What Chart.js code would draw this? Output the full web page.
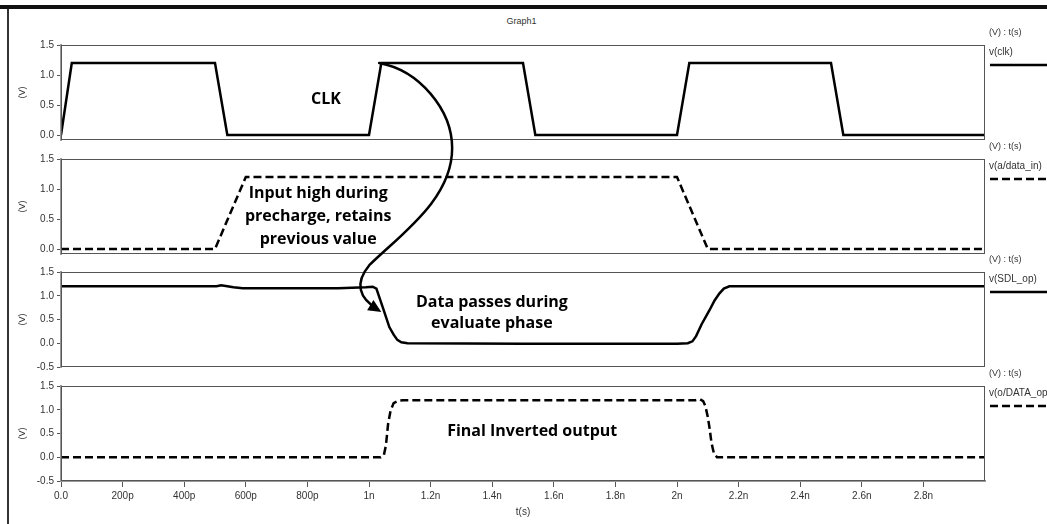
<!DOCTYPE html>
<html>
<head>
<meta charset="utf-8">
<title>Graph1</title>
<script src="https://cdn.jsdelivr.net/npm/chart.js"></script>
<style>
  html, body { margin: 0; padding: 0; background: #fff; }
  #page { position: relative; width: 1047px; height: 524px; overflow: hidden; font-family: "Liberation Sans", Arial, sans-serif; }
  #topbar { position: absolute; left: 0; top: 5px; width: 1047px; height: 4px; background: #111; }
  #leftbar { position: absolute; left: 7px; top: 9px; width: 1.5px; height: 515px; background: #333; }
  #title { position: absolute; left: 0; width: 1043px; top: 16px; text-align: center; font-size: 9px; color: #333; }
  canvas.panel { position: absolute; left: 0; }
  #overlay { position: absolute; left: 0; top: 0; pointer-events: none; }
</style>
</head>
<body>
<div id="page">
  <div id="topbar"></div>
  <div id="leftbar"></div>
  <div id="title">Graph1</div>
  <canvas class="panel" id="p0"></canvas>
  <canvas class="panel" id="p1"></canvas>
  <canvas class="panel" id="p2"></canvas>
  <canvas class="panel" id="p3"></canvas>
  <canvas id="overlay" width="1047" height="524"></canvas>
</div>
<script>
// time in picoseconds
const xTickValues = [0, 200, 400, 600, 800, 1000, 1200, 1400, 1600, 1800, 2000, 2200, 2400, 2600, 2800];
const xTickLabels = ['0.0', '200p', '400p', '600p', '800p', '1n', '1.2n', '1.4n', '1.6n', '1.8n', '2n', '2.2n', '2.4n', '2.6n', '2.8n'];

const clkTime = [0, 35, 500, 540, 1000, 1040, 1500, 1540, 2000, 2040, 2500, 2540, 3000];
const clkVolt = [0, 1.2, 1.2, 0, 0, 1.2, 1.2, 0, 0, 1.2, 1.2, 0, 0];

const dataInTime = [0, 500, 600, 2000, 2100, 3000];
const dataInVolt = [0, 0, 1.2, 1.2, 0, 0];

const sdlTime = [0, 505, 520, 540, 560, 590, 900, 990, 1012, 1024, 1045, 1066, 1080, 1092, 1105, 1125, 1500, 2000, 2035, 2050, 2062, 2080, 2105, 2122, 2138, 2152, 2170, 3000];
const sdlVolt = [1.2, 1.2, 1.22, 1.2, 1.18, 1.16, 1.16, 1.18, 1.19, 1.15, 0.75, 0.34, 0.18, 0.07, 0.02, 0, -0.01, -0.01, 0, 0.04, 0.15, 0.4, 0.69, 0.9, 1.05, 1.15, 1.2, 1.2];

const dataOpTime = [0, 1038, 1048, 1055, 1062, 1070, 1080, 1095, 1110, 2060, 2075, 2085, 2092, 2100, 2106, 2112, 2120, 2130, 3000];
const dataOpVolt = [0, 0, 0.04, 0.25, 0.7, 0.98, 1.14, 1.19, 1.2, 1.2, 1.22, 1.18, 1.08, 0.85, 0.6, 0.3, 0.08, 0, 0];

const seriesNames = ['v(clk)', 'v(a/data_in)', 'v(SDL_op)', 'v(o/DATA_op)'];
const seriesTimes = [clkTime, dataInTime, sdlTime, dataOpTime];
const seriesVolts = [clkVolt, dataInVolt, sdlVolt, dataOpVolt];
const seriesDashed = [false, true, false, true];

const yMins = [-0.083, -0.083, -0.5, -0.5];
const yMaxs = [1.5, 1.5, 1.5, 1.5];
const yTicks = [[0, 0.5, 1, 1.5], [0, 0.5, 1, 1.5], [-0.5, 0, 0.5, 1, 1.5], [-0.5, 0, 0.5, 1, 1.5]];

// text notes placed in data coordinates of their panel
const notes = [
  { panel: 0, t: 860, v: 0.6, gap: 0, lines: ['CLK'] },
  { panel: 1, t: 835, v: 0.93, gap: 23, lines: ['Input high during', 'precharge, retains', 'previous value'] },
  { panel: 2, t: 1399, v: 0.86, gap: 21, lines: ['Data passes during', 'evaluate phase'] },
  { panel: 3, t: 1530, v: 0.55, gap: 0, lines: ['Final Inverted output'] }
];

// curved arrow, in data coordinates of panel 2 (start, then control/control/end triples)
const arrowPts = [[1033, 3.1], [1163, 2.98], [1270, 2.32], [1270, 1.68], [1270, 0.82], [1099, 0.23], [1001, -0.27], [952, -0.57], [968, -0.82], [1027, -1.0]];
const arrowTip = [1040, -1.05];

// layout
const panelTop = [45, 159, 272, 386];
const FONT = '"Liberation Sans", Arial, sans-serif';

const panelDecor = {
  id: 'panelDecor',
  afterDraw(chart, args, opts) {
    const { ctx, chartArea: a } = chart;
    ctx.save();
    ctx.strokeStyle = '#555';
    ctx.lineWidth = 1;
    ctx.strokeRect(a.left + 0.5, a.top + 0.5, a.right - a.left - 1, a.bottom - a.top - 1);

    ctx.fillStyle = '#333';
    ctx.font = '9px ' + FONT;
    ctx.textBaseline = 'middle';
    ctx.textAlign = 'left';
    ctx.fillText('(V) : t(s)', a.right + 4, a.top - 12);
    ctx.font = '10px ' + FONT;
    ctx.fillText(chart.data.datasets[0].label, a.right + 4, a.top + 7);

    ctx.strokeStyle = '#000';
    ctx.lineWidth = 2.5;
    ctx.setLineDash(opts.dashed ? [8, 4] : []);
    ctx.beginPath();
    ctx.moveTo(a.right + 5, a.top + 20);
    ctx.lineTo(chart.width, a.top + 20);
    ctx.stroke();
    ctx.setLineDash([]);

    const xs = chart.scales.x, ys = chart.scales.y;
    ctx.fillStyle = '#000';
    ctx.font = 'bold 16px "Open Sans", "Noto Sans", sans-serif';
    ctx.textAlign = 'center';
    notes.filter(n => n.panel === opts.index).forEach(n => {
      const x = xs.getPixelForValue(n.t);
      const y = ys.getPixelForValue(n.v);
      n.lines.forEach((s, i) => ctx.fillText(s, x, y + i * n.gap));
    });
    ctx.restore();
  }
};

const charts = [];
for (let i = 0; i < 4; i++) {
  const last = i === 3;
  const canvas = document.getElementById('p' + i);
  const top = panelTop[i] - 20;
  const h = last ? 524 - top : 125;
  canvas.width = 1047;
  canvas.height = h;
  canvas.style.top = top + 'px';
  canvas.style.width = '1047px';
  canvas.style.height = h + 'px';

  const pts = seriesTimes[i].map((t, k) => ({ x: t, y: seriesVolts[i][k] }));

  charts.push(new Chart(canvas, {
    type: 'line',
    data: {
      datasets: [{
        label: seriesNames[i],
        data: pts,
        borderColor: '#000',
        borderWidth: 2.5,
        borderDash: seriesDashed[i] ? [8, 4] : [],
        pointRadius: 0,
        tension: 0,
        fill: false
      }]
    },
    options: {
      responsive: false,
      animation: false,
      layout: { padding: { top: 20, bottom: last ? 0 : 10, left: 0, right: 62 } },
      plugins: {
        legend: { display: false },
        tooltip: { enabled: false },
        panelDecor: { index: i, dashed: seriesDashed[i] }
      },
      scales: {
        x: {
          type: 'linear',
          display: last,
          min: 0,
          max: 3000,
          afterBuildTicks: s => { s.ticks = xTickValues.map(v => ({ value: v })); },
          afterFit: s => { s.height = last ? 43 : 0; },
          ticks: {
            autoSkip: false,
            maxRotation: 0,
            padding: 3,
            color: '#333',
            font: { family: FONT, size: 10 },
            callback: (v, idx) => xTickLabels[idx]
          },
          grid: { drawOnChartArea: false, drawTicks: true, tickLength: 6, tickColor: '#555' },
          border: { display: true, color: '#999', width: 2 },
          title: { display: true, text: 't(s)', color: '#333', font: { family: FONT, size: 10 }, padding: { top: 0, bottom: 6 } }
        },
        y: {
          min: yMins[i],
          max: yMaxs[i],
          afterBuildTicks: s => { s.ticks = yTicks[i].map(v => ({ value: v })); },
          afterFit: s => { s.width = 61; },
          ticks: {
            autoSkip: false,
            padding: 3,
            color: '#333',
            font: { family: FONT, size: 10 },
            callback: v => Number(v).toFixed(1)
          },
          grid: { drawOnChartArea: false, drawTicks: true, tickLength: 4, tickColor: '#555' },
          border: { display: true, color: '#999', width: 2 },
          title: { display: true, text: '(V)', color: '#333', font: { family: FONT, size: 9 }, padding: { top: 17, bottom: 0 } }
        }
      }
    },
    plugins: [panelDecor]
  }));
}

// arrow from the clock edge down to the SDL transition
(function drawArrow() {
  const c = charts[1];
  const off = panelTop[1] - 20;
  const P = p => [c.scales.x.getPixelForValue(p[0]), c.scales.y.getPixelForValue(p[1]) + off];
  const ctx = document.getElementById('overlay').getContext('2d');
  ctx.strokeStyle = '#000';
  ctx.fillStyle = '#000';
  ctx.lineWidth = 2.5;
  ctx.lineCap = 'round';
  const s = P(arrowPts[0]);
  ctx.beginPath();
  ctx.moveTo(s[0], s[1]);
  for (let k = 1; k + 2 < arrowPts.length; k += 3) {
    const a = P(arrowPts[k]), b = P(arrowPts[k + 1]), e = P(arrowPts[k + 2]);
    ctx.bezierCurveTo(a[0], a[1], b[0], b[1], e[0], e[1]);
  }
  ctx.stroke();
  const tip = P(arrowTip);
  const from = P(arrowPts[arrowPts.length - 2]);
  const ang = Math.atan2(tip[1] - from[1], tip[0] - from[0]);
  const len = 13, hw = 6;
  ctx.beginPath();
  ctx.moveTo(tip[0], tip[1]);
  ctx.lineTo(tip[0] - len * Math.cos(ang) + hw * Math.sin(ang), tip[1] - len * Math.sin(ang) - hw * Math.cos(ang));
  ctx.lineTo(tip[0] - len * Math.cos(ang) - hw * Math.sin(ang), tip[1] - len * Math.sin(ang) + hw * Math.cos(ang));
  ctx.closePath();
  ctx.fill();
})();
</script>
</body>
</html>
